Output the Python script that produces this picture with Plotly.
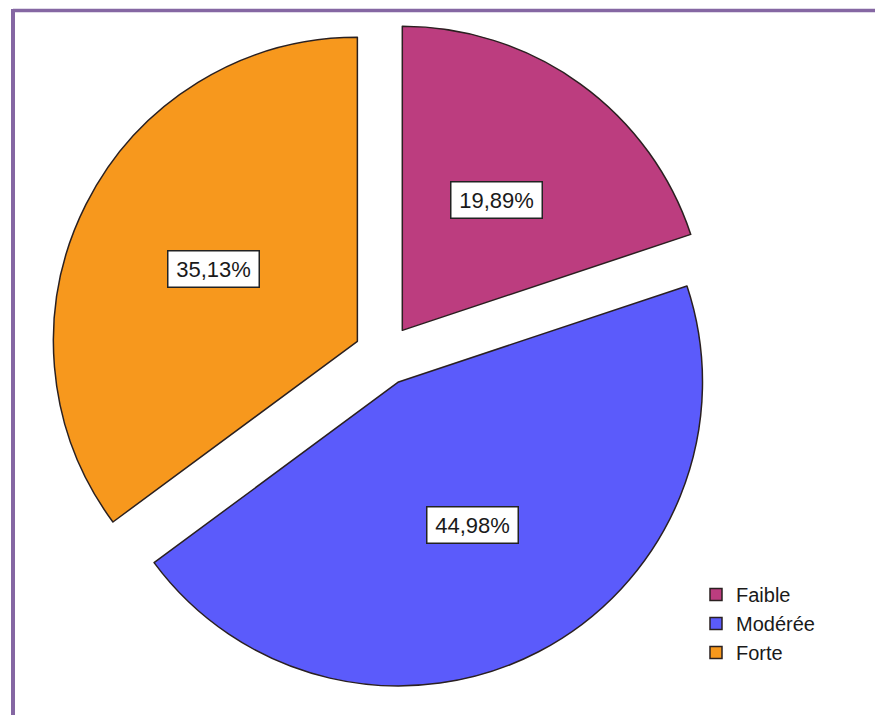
import math
import plotly.graph_objects as go

# ---- data ----
categories = ["Faible", "Modérée", "Forte"]
values = [19.89, 44.98, 35.13]
label_texts = ["19,89%", "44,98%", "35,13%"]
colors = ["#BC3D7F", "#5B5BFB", "#F7981D"]

W, H = 875, 715
PULL = 0.1
DOM_X = [0.0573, 0.8216]
DOM_Y = [0.0358, 0.9712]
LABEL_R = 0.53  # fraction of radius where value boxes sit

fig = go.Figure()
fig.add_trace(go.Pie(
    labels=categories,
    values=values,
    sort=False,
    direction="clockwise",
    rotation=0,
    pull=[PULL] * len(values),
    marker=dict(colors=colors, line=dict(color="#2a2020", width=1.5)),
    textinfo="none",
    hoverinfo="label+percent",
    domain=dict(x=DOM_X, y=DOM_Y),
    showlegend=True,
))

# value boxes placed along each slice bisector (computed from the values)
w_px = W * (DOM_X[1] - DOM_X[0])
h_px = H * (DOM_Y[1] - DOM_Y[0])
R = min(w_px, h_px) / 2 / (1 + PULL)
cx = W * (DOM_X[0] + DOM_X[1]) / 2
cy = H * (1 - (DOM_Y[0] + DOM_Y[1]) / 2)
total = sum(values)
cum = 0.0
for v, txt in zip(values, label_texts):
    mid = (cum + v / 2) / total * 2 * math.pi
    cum += v
    d = (PULL + LABEL_R) * R
    px = cx + d * math.sin(mid)
    py = cy - d * math.cos(mid)
    fig.add_annotation(
        x=px / W, y=1 - py / H, xref="paper", yref="paper",
        text=txt, showarrow=False,
        font=dict(family="Liberation Sans, Arial, sans-serif", size=22, color="#1a1a1a"),
        bgcolor="white", bordercolor="#222222", borderwidth=1.5,
        borderpad=2, width=86, height=31,
        xanchor="center", yanchor="middle",
    )

# purple frame (top and left edges as in the cropped original)
frame_color = "#8567A3"
fig.add_shape(type="line", xref="paper", yref="paper",
              x0=13 / W, x1=1.0, y0=1 - 10.5 / H, y1=1 - 10.5 / H,
              line=dict(color=frame_color, width=3.5))
fig.add_shape(type="line", xref="paper", yref="paper",
              x0=13 / W, x1=13 / W, y0=0.0, y1=1 - 9 / H,
              line=dict(color=frame_color, width=4))

fig.update_layout(
    width=W, height=H,
    margin=dict(l=0, r=0, t=0, b=0),
    paper_bgcolor="white",
    plot_bgcolor="white",
    font=dict(family="Liberation Sans, Arial, sans-serif", color="#1a1a1a"),
    legend=dict(
        x=696 / W, y=1 - 575 / H, xanchor="left", yanchor="top",
        font=dict(size=20, color="#1a1a1a"),
        bgcolor="rgba(0,0,0,0)", borderwidth=0,
        traceorder="normal", itemclick=False, itemdoubleclick=False,
    ),
)

fig.write_html("out.html", config={"displayModeBar": False},
               post_script="document.body.style.margin='0';")
